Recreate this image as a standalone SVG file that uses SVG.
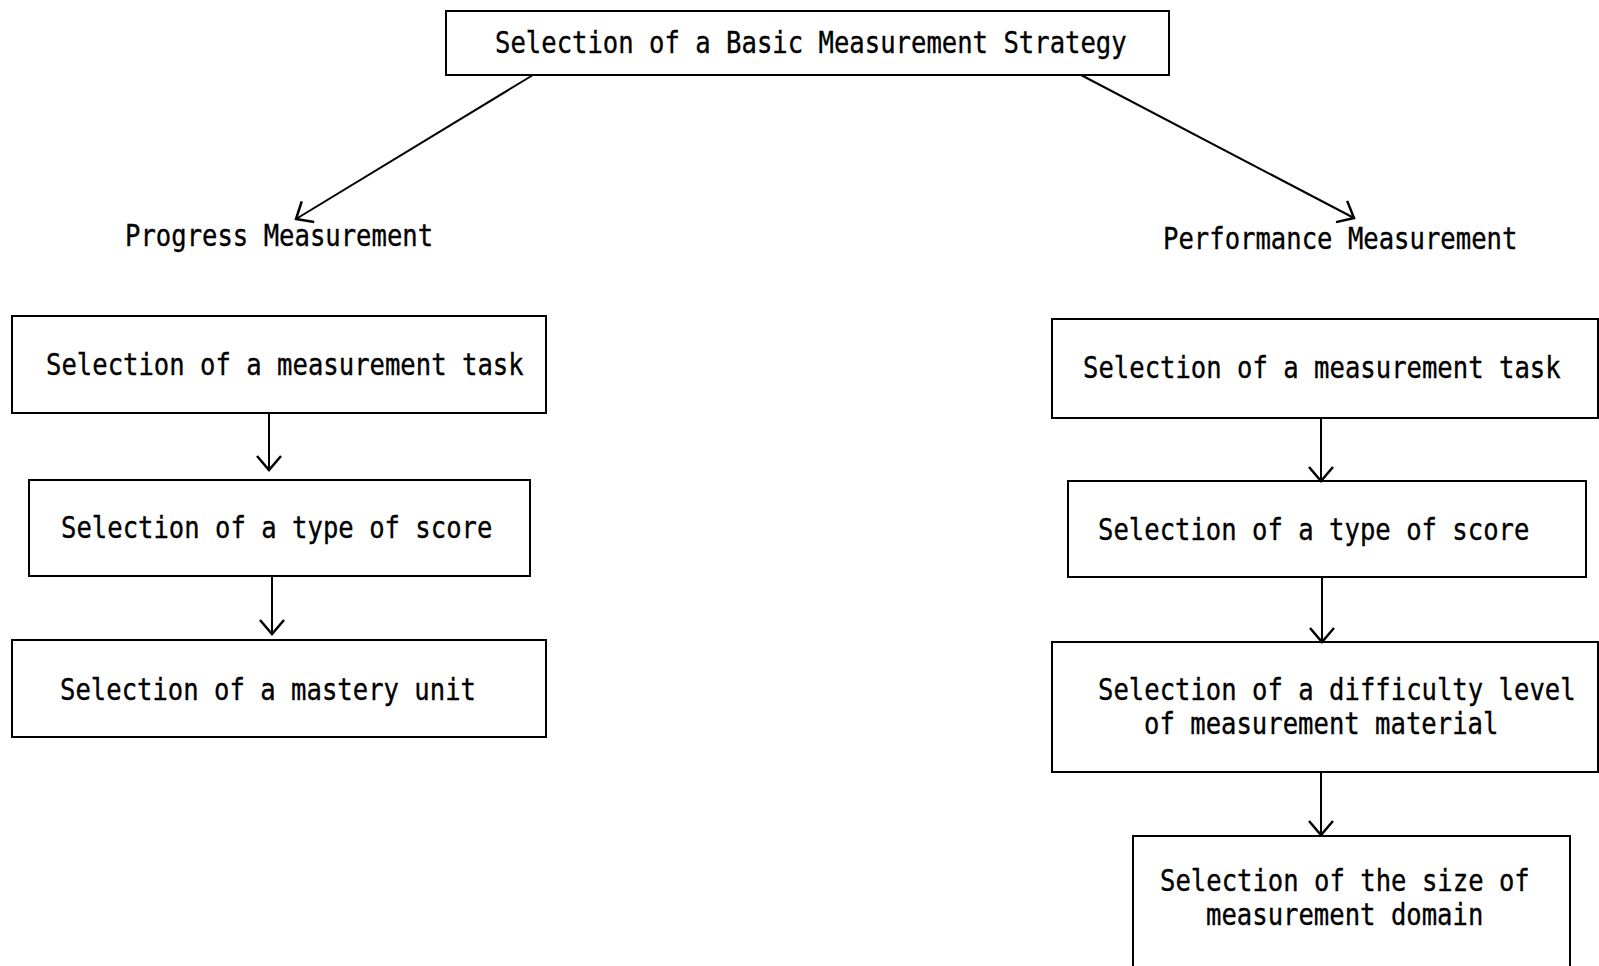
<svg xmlns="http://www.w3.org/2000/svg" width="1599" height="966" viewBox="0 0 1599 966">
<style>
.box{fill:#fff;stroke:#000;stroke-width:2}
.t{font-family:"DejaVu Sans Mono","Liberation Mono",monospace;font-size:25.6px;fill:#000;stroke:#000;stroke-width:0.3}
.c{stroke:#000;stroke-width:2;fill:none}
</style>
<defs>
<marker id="ah" viewBox="-2 -2 28 28" refX="22" refY="12" markerWidth="28" markerHeight="28" markerUnits="userSpaceOnUse" orient="auto" overflow="visible">
<path d="M8,0 L22,12 L8,24" fill="none" stroke="#000" stroke-width="2.5"/>
</marker>
</defs>
<rect width="1599" height="966" fill="#fff"/>
<g id="top">
<rect class="box" x="446" y="11" width="723" height="64"/>
<text class="t" transform="translate(495,53) scale(1,1.2)">Selection of a Basic Measurement Strategy</text>
</g>
<g id="progress">
<text class="t" transform="translate(125,246) scale(1,1.2)">Progress Measurement</text>
</g>
<g id="performance">
<text class="t" transform="translate(1163,249) scale(1,1.2)">Performance Measurement</text>
</g>
<g id="l1">
<rect class="box" x="12" y="316" width="534" height="97"/>
<text class="t" transform="translate(46,375) scale(1,1.2)">Selection of a measurement task</text>
</g>
<g id="l2">
<rect class="box" x="29" y="480" width="501" height="96"/>
<text class="t" transform="translate(61,538) scale(1,1.2)">Selection of a type of score</text>
</g>
<g id="l3">
<rect class="box" x="12" y="640" width="534" height="97"/>
<text class="t" transform="translate(60,700) scale(1,1.2)">Selection of a mastery unit</text>
</g>
<g id="r1">
<rect class="box" x="1052" y="319" width="546" height="99"/>
<text class="t" transform="translate(1083,378) scale(1,1.2)">Selection of a measurement task</text>
</g>
<g id="r2">
<rect class="box" x="1068" y="481" width="518" height="96"/>
<text class="t" transform="translate(1098,540) scale(1,1.2)">Selection of a type of score</text>
</g>
<g id="r3">
<rect class="box" x="1052" y="642" width="546" height="130"/>
<text class="t" transform="translate(1098,700) scale(1,1.2)">Selection of a difficulty level</text>
<text class="t" transform="translate(1144,734) scale(1,1.2)">of measurement material</text>
</g>
<g id="r4">
<rect class="box" x="1133" y="836" width="437" height="140"/>
<text class="t" transform="translate(1160,891) scale(1,1.2)">Selection of the size of</text>
<text class="t" transform="translate(1206,925) scale(1,1.2)">measurement domain</text>
</g>
<g id="connectors">
<line class="c" x1="533" y1="75" x2="296" y2="219" marker-end="url(#ah)"/>
<line class="c" x1="1081" y1="75" x2="1354" y2="218" marker-end="url(#ah)"/>
<line class="c" x1="269" y1="413" x2="269" y2="470" marker-end="url(#ah)"/>
<line class="c" x1="272" y1="576" x2="272" y2="634" marker-end="url(#ah)"/>
<line class="c" x1="1321" y1="418" x2="1321" y2="481" marker-end="url(#ah)"/>
<line class="c" x1="1322" y1="577" x2="1322" y2="642" marker-end="url(#ah)"/>
<line class="c" x1="1321" y1="772" x2="1321" y2="835" marker-end="url(#ah)"/>
</g>
</svg>
